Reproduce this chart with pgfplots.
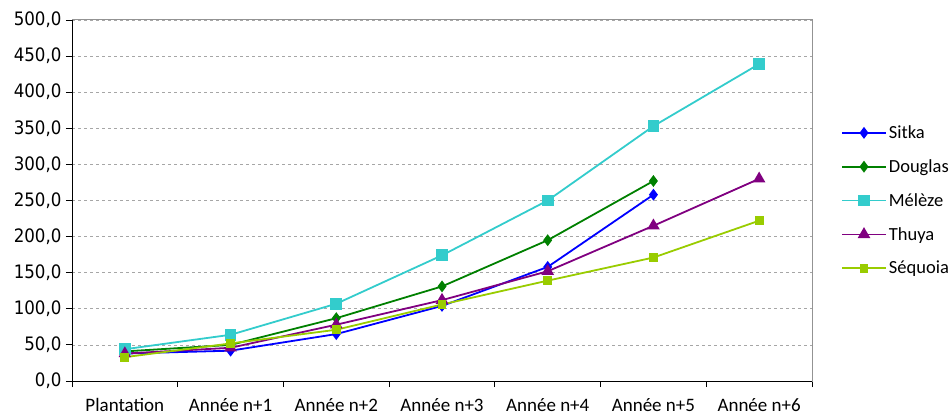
\documentclass[border=0pt]{standalone}
\usepackage{pgfplots}
\pgfplotsset{compat=1.18}
\usepackage{fontspec}
\setmainfont{Carlito}
\newfontfamily\yfont[FakeStretch=0.9]{DejaVu Sans}
\definecolor{csitka}{RGB}{0,0,255}
\definecolor{cdouglas}{RGB}{0,128,0}
\definecolor{cmeleze}{RGB}{51,204,204}
\definecolor{cthuya}{RGB}{128,0,128}
\definecolor{csequoia}{RGB}{153,204,0}
\begin{document}
\begin{tikzpicture}
\begin{axis}[
  scale only axis,
  width=740pt, height=361pt,
  xmin=-0.5, xmax=6.5,
  ymin=0, ymax=500,
  ytick={0,50,...,500},
  xtick={0,...,6},
  xticklabels={Plantation,Année n+1,Année n+2,Année n+3,Année n+4,Année n+5,Année n+6},
  minor xtick={-0.5,0.5,...,6.5},
  tick align=outside,
  xtick pos=bottom, ytick pos=left,
  major x tick style={draw=none},
  minor tick length=6pt,
  major tick length=6pt,
  tick style={black, line width=0.8pt},
  axis line style={gray!85, line width=1pt},
  ymajorgrids,
  grid style={gray!70, dashed, line width=0.6pt},
  /pgf/number format/assume math mode=true,
  yticklabel={\pgfmathprintnumber[fixed,fixed zerofill,precision=1,use comma,1000 sep={}]{\tick}},
  yticklabel style={font=\yfont\fontsize{18.5}{20}\selectfont, xshift=-1pt},
  xticklabel style={font=\fontsize{19}{21}\selectfont, yshift=-8pt},
  legend style={at={(1.035,0.5)}, anchor=west, draw=none, fill=none,
    font=\fontsize{18.5}{21}\selectfont, row sep=15.5pt,
    /tikz/every even column/.append style={column sep=2pt}},
  legend cell align=left,
  legend image code/.code={
    \draw[#1, mark repeat=2, mark phase=2] plot coordinates {(0pt,0pt) (22pt,0pt) (44pt,0pt)};
  },
  every axis plot/.append style={line width=1.8pt},
  clip=false,
]
\addplot[color=csitka, mark=diamond*, mark size=4.5pt] coordinates {(0,38) (1,42) (2,65) (3,104) (4,158) (5,258)};
\addlegendentry{Sitka}
\addplot[color=cdouglas, mark=diamond*, mark size=4.5pt] coordinates {(0,41) (1,50) (2,87) (3,131) (4,195) (5,277)};
\addlegendentry{Douglas}
\addplot[color=cmeleze, mark=square*, mark size=5pt] coordinates {(0,44) (1,64) (2,107) (3,174) (4,250) (5,353) (6,439)};
\addlegendentry{Mélèze}
\addplot[color=cthuya, mark=triangle*, mark size=5.5pt] coordinates {(0,38) (1,46) (2,78) (3,112) (4,152) (5,215) (6,280)};
\addlegendentry{Thuya}
\addplot[color=csequoia, mark=square*, mark size=3.5pt] coordinates {(0,33) (1,52) (2,71) (3,106) (4,139) (5,171) (6,222)};
\addlegendentry{Séquoia}
\draw[black, line width=1pt] (rel axis cs:0,1) -- (rel axis cs:0,0) -- (rel axis cs:1,0);
\end{axis}
\pgfresetboundingbox
\useasboundingbox (-72pt,-36pt) rectangle (877pt,381pt);
\end{tikzpicture}
\end{document}
